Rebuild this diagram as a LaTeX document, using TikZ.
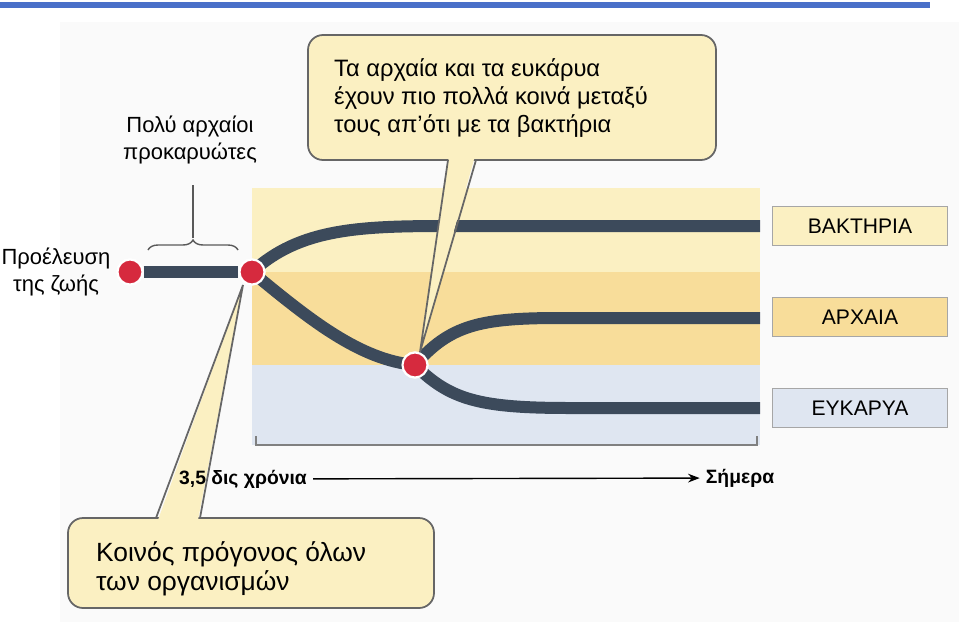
\documentclass[tikz,border=0pt]{standalone}
\usepackage{fontspec}
\setmainfont{Liberation Sans}
\usetikzlibrary{arrows.meta,decorations.pathreplacing}
\definecolor{bandA}{HTML}{FBF0C2}
\definecolor{bandB}{HTML}{F8DD9A}
\definecolor{bandC}{HTML}{DFE6F1}
\definecolor{lineage}{HTML}{3C4A5B}
\definecolor{dotred}{HTML}{D62A3E}
\definecolor{topblue}{HTML}{4A70C9}
\tikzset{
  branch/.style={draw=lineage, line width=0.24cm},
  dot/.style={circle, fill=dotred, draw=white, line width=1.2pt, minimum size=0.5cm, inner sep=0pt},
  tag/.style={draw=gray!70, line width=0.8pt, minimum width=3.5cm, minimum height=0.78cm, font=\fontsize{12}{14}\selectfont},
  callout/.style={draw=gray!80!black, line width=1pt, fill=bandA, rounded corners=0.3cm},
  caption/.style={align=center, font=\fontsize{12.5}{15}\selectfont}
}
\begin{document}
\begin{tikzpicture}[x=0.02cm,y=-0.02cm,>=Stealth]
	\useasboundingbox (0,0) rectangle (959,622);
	\fill[white] (0,0) rectangle (959,622);
	\fill[gray!4] (60,22) rectangle (959,622);
	\draw[topblue, line width=3pt] (0,5) -- (930,5);
	% bands
	\fill[bandA] (252,188) rectangle (760,272);
	\fill[bandB] (252,272) rectangle (760,365);
	\fill[bandC] (252,365) rectangle (760,445);
	\draw[gray, line width=1pt] (256,436) -- (256,445) -- (757,445) -- (757,436);
	% lineages
	\node[dot] (origin) at (130,272) {};
	\node[dot] (root) at (252,272) {};
	\node[dot] (split) at (415,365) {};
	\coordinate (bactEnd) at (760,226);
	\coordinate (archEnd) at (760,318);
	\coordinate (eukEnd) at (760,408);
	\draw[branch] (origin) -- (root);
	\draw[branch] (root.center) .. controls (300,228) and (360,226) .. (450,226) -- (bactEnd);
	\draw[branch] (root.center) .. controls (310,320) and (360,360) .. (split.center);
	\draw[branch] (split.center) .. controls (450,325) and (480,318) .. (560,318) -- (archEnd);
	\draw[branch] (split.center) .. controls (450,400) and (480,408) .. (570,408) -- (eukEnd);
	\node[dot] at (origin) {};
	\node[dot] at (root) {};
	\node[dot] at (split) {};
	% tags
	\node[tag, fill=bandA] (bact) at (860,226) {ΒΑΚΤΗΡΙΑ};
	\node[tag, fill=bandB] (arch) at (860,317) {ΑΡΧΑΙΑ};
	\node[tag, fill=bandC] (euk) at (860,408) {ΕΥΚΑΡΥΑ};
	% left labels
	\node[caption] (life) at (56,272) {Προέλευση\\της ζωής};
	\node[caption] (old) at (190,140) {Πολύ αρχαίοι\\προκαρυώτες};
	\draw[decorate, decoration={brace, amplitude=0.2cm}, gray!70!black, line width=0.8pt] (148,250) -- (238,250);
	\draw[gray!70!black, line width=0.8pt] (193,238) -- (193,185);
	% callouts
	\coordinate (pinTop) at (420,352);
	\draw[callout] (308,35) rectangle (716,160);
	\fill[bandA] (449,156) -- (pinTop) -- (475,156) -- cycle;
	\draw[gray!80!black, line width=1pt] (448,160) -- (pinTop) -- (476,160);
	\node[anchor=north west, align=left, font=\fontsize{13.5}{16}\selectfont] (note) at (328,52) {Τα αρχαία και τα ευκάρυα\\έχουν πιο πολλά κοινά μεταξύ\\τους απ'ότι με τα βακτήρια};
	\coordinate (pinLow) at (243,285);
	\draw[callout] (68,518) rectangle (434,608);
	\fill[bandA] (158,520) -- (pinLow) -- (198,520) -- cycle;
	\draw[gray!80!black, line width=1pt] (156,518) -- (pinLow) -- (200,518);
	\node[anchor=north west, align=left, font=\fontsize{15}{17}\selectfont] (ancestor) at (90,535) {Κοινός πρόγονος όλων\\των οργανισμών};
	% axis
	\node[font=\bfseries\fontsize{11}{13}\selectfont] (past) at (243,479) {3,5 δις χρόνια};
	\node[font=\bfseries\fontsize{11}{13}\selectfont] (now) at (740,478) {Σήμερα};
	\draw[->, line width=0.8pt] (past) -- (now);
\end{tikzpicture}
\end{document}
